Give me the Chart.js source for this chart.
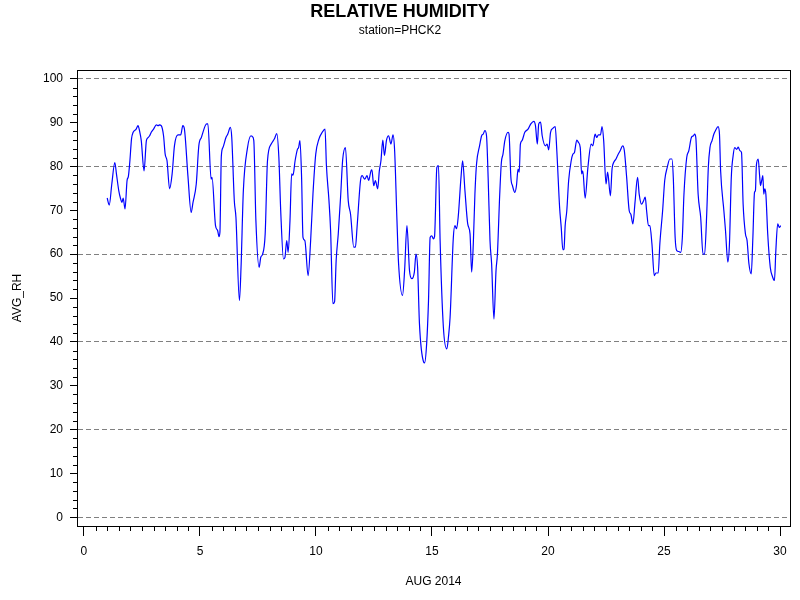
<!DOCTYPE html>
<html>
<head>
<meta charset="utf-8">
<script src="https://cdn.jsdelivr.net/npm/chart.js@4.4.0/dist/chart.umd.min.js"></script>
<style>
  body { margin: 0; background: #ffffff; }
  #contenedor { width: 800px; height: 600px; }
</style>
</head>
<body>
<div id="contenedor"><canvas id="graficoHumedad" width="800" height="600"></canvas></div>
<script>
// Datos: día de agosto 2014 y humedad relativa media
const dias = [
  1.00, 1.09, 1.20, 1.33, 1.40, 1.50, 1.57, 1.64, 1.69, 1.77, 1.86, 1.91, 1.98, 2.05, 2.12, 2.25, 2.33, 2.40, 2.47, 2.59,
  2.69, 2.75, 2.83, 2.90, 3.00, 3.12, 3.20, 3.25, 3.33, 3.43, 3.50, 3.58, 3.69, 3.80, 3.90, 4.05, 4.17, 4.26, 4.33, 4.48,
  4.62, 4.70, 4.84, 4.95, 5.06, 5.29, 5.34, 5.48, 5.52, 5.67, 5.76, 5.82, 5.86, 5.92, 5.99, 6.12, 6.20, 6.31, 6.37, 6.48,
  6.55, 6.70, 6.77, 6.87, 7.05, 7.20, 7.26, 7.32, 7.41, 7.55, 7.62, 7.70, 7.81, 7.91, 8.07, 8.21, 8.31, 8.40, 8.48, 8.60,
  8.66, 8.74, 8.80, 8.88, 8.95, 9.01, 9.10, 9.20, 9.25, 9.31, 9.38, 9.44, 9.52, 9.66, 9.77, 9.87, 9.99, 10.13, 10.27, 10.39,
  10.45, 10.56, 10.63, 10.73, 10.80, 10.87, 10.96, 11.06, 11.15, 11.27, 11.39, 11.49, 11.63, 11.70, 11.77, 11.92, 11.99, 12.10, 12.20, 12.27,
  12.37, 12.41, 12.49, 12.56, 12.66, 12.73, 12.80, 12.88, 12.95, 13.04, 13.13, 13.23, 13.32, 13.39, 13.49, 13.56, 13.73, 13.82, 13.92, 14.03,
  14.13, 14.24, 14.31, 14.38, 14.46, 14.64, 14.68, 14.77, 14.85, 14.92, 14.99, 15.06, 15.11, 15.21, 15.28, 15.35, 15.49, 15.64, 15.71, 15.78,
  15.92, 15.99, 16.06, 16.13, 16.25, 16.32, 16.42, 16.54, 16.64, 16.71, 16.78, 16.85, 16.92, 17.05, 17.14, 17.21, 17.28, 17.35, 17.42, 17.50,
  17.57, 17.67, 17.76, 17.82, 17.92, 17.99, 18.06, 18.14, 18.28, 18.32, 18.40, 18.47, 18.57, 18.64, 18.71, 18.76, 18.81, 18.88, 19.00, 19.14,
  19.26, 19.39, 19.46, 19.54, 19.60, 19.68, 19.75, 19.89, 19.96, 20.03, 20.11, 20.21, 20.31, 20.38, 20.50, 20.57, 20.64, 20.69, 20.74, 20.81,
  20.89, 21.00, 21.07, 21.14, 21.24, 21.31, 21.39, 21.45, 21.50, 21.60, 21.72, 21.86, 21.93, 22.03, 22.10, 22.17, 22.26, 22.33, 22.40, 22.50,
  22.57, 22.69, 22.76, 22.83, 22.93, 23.00, 23.11, 23.22, 23.29, 23.39, 23.50, 23.57, 23.66, 23.75, 23.86, 23.93, 24.03, 24.12, 24.19, 24.25,
  24.33, 24.39, 24.48, 24.58, 24.65, 24.75, 24.82, 24.94, 25.03, 25.14, 25.25, 25.34, 25.40, 25.48, 25.55, 25.64, 25.72, 25.79, 25.86, 25.98,
  26.07, 26.18, 26.27, 26.32, 26.37, 26.47, 26.58, 26.68, 26.75, 26.84, 26.91, 26.98, 27.07, 27.15, 27.22, 27.33, 27.39, 27.44, 27.58, 27.65,
  27.75, 27.82, 27.90, 27.98, 28.05, 28.13, 28.20, 28.27, 28.34, 28.41, 28.51, 28.58, 28.66, 28.76, 28.83, 28.90, 28.94, 28.98, 29.06, 29.12,
  29.16, 29.21, 29.26, 29.30, 29.34, 29.39, 29.47, 29.58, 29.68, 29.76, 29.82, 29.90, 29.97, 30.03
];
const humedad = [
  72.8, 71.2, 76.0, 80.9, 78.3, 74.5, 72.8, 71.8, 72.8, 70.3, 76.9, 77.6, 81.3, 86.3, 87.8, 88.5, 89.3, 88.0, 85.9, 79.0,
  85.9, 86.5, 87.0, 87.8, 88.5, 89.5, 89.3, 89.5, 89.3, 87.0, 82.8, 81.3, 74.9, 78.3, 84.7, 87.2, 87.2, 89.3, 88.5, 77.9,
  69.5, 71.8, 76.0, 84.7, 86.6, 89.7, 89.7, 77.1, 77.5, 66.5, 65.4, 64.0, 65.0, 82.3, 84.3, 86.6, 87.4, 88.9, 86.6, 72.2,
  68.4, 49.4, 57.0, 74.5, 84.3, 87.0, 86.8, 85.9, 67.7, 57.0, 59.3, 60.0, 64.6, 81.3, 85.1, 86.3, 87.5, 82.1, 69.9, 58.9,
  59.2, 63.1, 60.4, 67.7, 78.3, 78.0, 81.3, 83.9, 84.3, 85.9, 77.5, 63.8, 63.1, 55.1, 63.1, 73.7, 82.8, 86.3, 87.8, 88.5,
  80.2, 72.2, 65.4, 48.7, 49.1, 58.6, 64.6, 73.0, 81.5, 84.3, 72.2, 69.1, 61.6, 61.6, 66.1, 76.8, 77.9, 77.1, 77.9, 76.8,
  79.0, 79.2, 75.6, 76.8, 74.9, 79.0, 81.3, 86.0, 82.5, 86.0, 87.0, 85.1, 87.2, 83.6, 67.7, 57.8, 50.6, 56.3, 66.5, 56.3,
  54.4, 55.9, 60.0, 57.0, 44.1, 35.4, 35.2, 39.6, 49.4, 63.8, 64.2, 63.5, 64.0, 79.8, 80.2, 63.1, 43.4, 38.4, 41.1, 45.6,
  63.8, 66.5, 65.8, 68.5, 77.5, 81.3, 74.5, 66.9, 64.6, 55.9, 62.3, 73.7, 80.6, 84.7, 87.0, 87.4, 88.2, 87.0, 77.5, 63.1,
  57.8, 45.2, 56.3, 60.0, 73.7, 80.9, 82.8, 85.9, 87.8, 87.4, 77.5, 75.6, 74.1, 75.6, 79.4, 78.7, 85.1, 85.9, 87.8, 88.5,
  89.7, 90.3, 89.3, 85.1, 89.7, 90.1, 87.0, 84.7, 85.1, 83.8, 87.8, 88.7, 89.1, 83.6, 70.7, 66.1, 61.0, 61.2, 66.5, 69.9,
  76.8, 81.3, 82.8, 83.2, 86.0, 85.5, 84.3, 78.3, 79.0, 72.8, 79.8, 85.1, 84.7, 87.4, 86.6, 87.2, 87.2, 89.1, 85.9, 76.0,
  78.7, 73.3, 79.4, 80.9, 81.7, 82.5, 83.6, 84.7, 83.6, 77.5, 69.9, 69.1, 66.9, 71.8, 77.5, 73.7, 71.4, 72.2, 73.0, 69.9,
  66.5, 66.5, 62.3, 55.1, 55.7, 55.7, 62.3, 69.9, 76.8, 79.8, 81.7, 81.7, 77.5, 63.8, 60.8, 60.6, 60.4, 63.8, 73.7, 82.1,
  83.6, 86.6, 87.0, 87.4, 86.6, 73.7, 68.4, 60.0, 60.0, 69.1, 79.8, 84.3, 85.9, 87.4, 88.2, 89.1, 87.4, 79.0, 69.9, 65.4,
  58.2, 62.3, 77.5, 82.5, 84.3, 83.9, 84.4, 83.6, 83.2, 71.4, 64.6, 63.1, 57.8, 55.5, 63.8, 74.1, 74.5, 80.2, 81.7, 77.9,
  75.6, 76.8, 77.9, 73.7, 74.9, 73.7, 64.6, 57.0, 54.8, 54.0, 60.8, 66.9, 66.1, 66.5
];

// Marcas principales de los ejes
const ticksX = [0, 5, 10, 15, 20, 25, 30];
const ticksY = [0, 10, 20, 30, 40, 50, 60, 70, 80, 90, 100];

const fuente = "'Liberation Sans', Arial, sans-serif";

// Plugin: marco completo y marcas menores de los ejes
const marcoYMarcas = {
  id: 'marcoYMarcas',
  afterDraw(chart) {
    const ctx = chart.ctx;
    const area = chart.chartArea;
    const escX = chart.scales.x;
    const escY = chart.scales.y;
    ctx.save();
    ctx.strokeStyle = '#000000';
    ctx.lineWidth = 1;
    ctx.beginPath();
    // marcas menores en x cada medio día
    for (let v = 0.5; v < 30; v += 0.5) {
      if (v % 5 === 0) continue;
      const px = Math.round(escX.getPixelForValue(v)) + 0.5;
      ctx.moveTo(px, area.bottom);
      ctx.lineTo(px, area.bottom + 5);
    }
    // marcas menores en y cada 2 unidades
    for (let v = 2; v < 100; v += 2) {
      if (v % 10 === 0) continue;
      const py = Math.round(escY.getPixelForValue(v)) + 0.5;
      ctx.moveTo(area.left - 4, py);
      ctx.lineTo(area.left, py);
    }
    ctx.stroke();
    // marco del área de dibujo
    ctx.strokeRect(Math.round(area.left) + 0.5, Math.round(area.top) + 0.5,
      Math.round(area.right - area.left), Math.round(area.bottom - area.top));
    ctx.restore();
  }
};

const ctx = document.getElementById('graficoHumedad').getContext('2d');

new Chart(ctx, {
  type: 'line',
  data: {
    datasets: [{
      label: 'AVG_RH',
      data: dias.map((d, i) => ({ x: d, y: humedad[i] })),
      borderColor: '#0000ff',
      borderWidth: 1.2,
      pointRadius: 0,
      fill: false,
      cubicInterpolationMode: 'monotone',
      parsing: false
    }]
  },
  options: {
    responsive: false,
    animation: false,
    layout: { padding: 0 },
    plugins: {
      legend: { display: false },
      tooltip: { enabled: false },
      title: {
        display: true,
        text: 'RELATIVE HUMIDITY',
        color: '#000000',
        font: { family: fuente, size: 18, weight: 'bold' },
        padding: { top: 1, bottom: 0 }
      },
      subtitle: {
        display: true,
        text: 'station=PHCK2',
        color: '#000000',
        font: { family: fuente, size: 12 },
        padding: { top: 1.2, bottom: 31.8 }
      }
    },
    scales: {
      x: {
        type: 'linear',
        position: 'bottom',
        min: -0.3,
        max: 30.43,
        afterBuildTicks: (escala) => { escala.ticks = ticksX.map(v => ({ value: v })); },
        afterFit: (escala) => { escala.height = 74; },
        ticks: {
          color: '#000000',
          font: { family: fuente, size: 12 },
          padding: 8,
          maxRotation: 0,
          autoSkip: false
        },
        grid: {
          drawOnChartArea: false,
          tickLength: 10,
          tickColor: '#000000',
          tickWidth: 1
        },
        border: { display: true, color: '#000000', width: 1 },
        title: {
          display: true,
          text: 'AUG 2014',
          color: '#000000',
          font: { family: fuente, size: 12 },
          padding: { top: 0, bottom: 11 }
        }
      },
      y: {
        type: 'linear',
        position: 'left',
        min: -2,
        max: 102,
        afterBuildTicks: (escala) => { escala.ticks = ticksY.map(v => ({ value: v })); },
        afterFit: (escala) => { escala.width = 77; },
        ticks: {
          color: '#000000',
          font: { family: fuente, size: 12 },
          padding: 7,
          autoSkip: false
        },
        grid: {
          // líneas discontinuas sólo cada 20
          color: (c) => (c.tick && c.tick.value % 20 === 0) ? '#808080' : 'rgba(0,0,0,0)',
          lineWidth: 1,
          tickLength: 7,
          tickColor: '#000000',
          tickWidth: 1
        },
        border: { display: true, color: '#000000', width: 1, dash: [5, 3] },
        title: {
          display: true,
          text: 'AVG_RH',
          color: '#000000',
          font: { family: fuente, size: 12 },
          padding: { top: 10, bottom: 0 }
        }
      },
      // eje vacío a la derecha para dejar el margen
      yDer: {
        position: 'right',
        display: true,
        grid: { display: false },
        ticks: { display: false },
        border: { display: false },
        afterFit: (escala) => { escala.width = 10; }
      }
    }
  },
  plugins: [marcoYMarcas]
});
</script>
</body>
</html>
